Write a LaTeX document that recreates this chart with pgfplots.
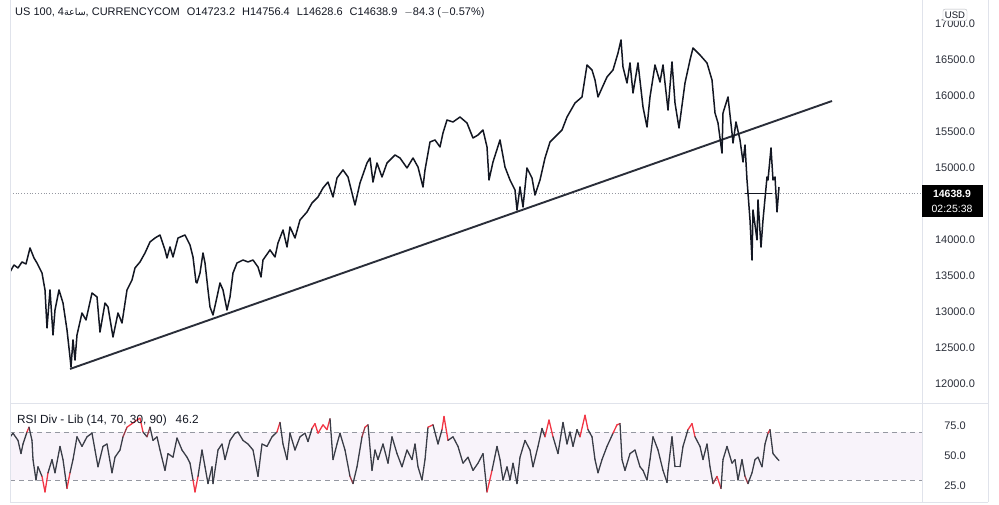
\documentclass[border=0pt]{standalone}
\usepackage{pgfplots}
\pgfplotsset{compat=1.18}
\usepackage{fontspec}
\setmainfont{Liberation Sans}
\newfontfamily\arabicfont[Script=Arabic]{DejaVu Sans}
\TeXXeTstate=1
\definecolor{pricecol}{HTML}{131722}
\definecolor{trendcol}{HTML}{2A2E39}
\definecolor{gridcol}{HTML}{E0E3EB}
\definecolor{rsigray}{HTML}{3A3D47}
\definecolor{rsired}{HTML}{F23645}
\definecolor{rsibg}{HTML}{F8F3FA}
\definecolor{dashcol}{HTML}{9598A1}
\definecolor{labelcol}{HTML}{2A2E39}
\begin{document}
\begin{tikzpicture}
\path[use as bounding box] (0pt,0pt) rectangle (999pt,504pt);
\fill[white] (0pt,0pt) rectangle (999pt,504pt);
% main price panel
\begin{axis}[
  at={(10pt,101pt)}, anchor=south west, scale only axis,
  width=912pt, height=403pt,
  xmin=10, xmax=922, ymin=11737, ymax=17323,
  axis line style={draw=none}, xtick=\empty,
  ytick={12000,12500,13000,13500,14000,15000,15500,16000,16500,17000},
  yticklabel pos=right, major tick length=0pt, scaled y ticks=false,
  yticklabel style={anchor=center, xshift=33pt, font=\fontsize{11}{13}\selectfont, text=labelcol},
  /pgf/number format/fixed, /pgf/number format/fixed zerofill,
  /pgf/number format/precision=1, /pgf/number format/1000 sep={},
  /pgf/number format/assume math mode=true,
]
\addplot[dotted, thick, color=dashcol] coordinates {(10,14638.9) (922,14638.9)};
\addplot[line width=1.9pt, color=trendcol] coordinates {(70,12209) (832,15923)};
\addplot[line width=1.5pt, color=pricecol, line join=round] coordinates {
(10,13553)(14,13650)(18,13609)(22,13692)(26,13664)(30,13886)(34,13747)(37,13678)(42,13539)(45,13304)
(47,12777)(50,13304)(53,12680)(55,13026)(59,13304)(63,13123)(67,12749)(70,12375)(71,12236)(73,12611)
(75,12333)(77,12680)(82,12985)(86,12888)(92,13262)(97,13207)(100,12721)(105,13123)(108,13068)(113,12652)
(118,12985)(122,12846)(127,13304)(132,13442)(135,13609)(140,13692)(145,13816)(150,13969)(155,14024)(160,14066)
(165,13858)(167,13747)(170,13900)(173,13761)(178,14024)(185,14066)(190,13927)(193,13761)(196,13414)(197,13401)
(200,13539)(203,13816)(205,13678)(208,13304)(210,13068)(213,12957)(217,13207)(220,13401)(223,13304)(227,13026)
(230,13207)(233,13539)(237,13678)(243,13719)(248,13692)(253,13719)(258,13622)(261,13484)(263,13719)(270,13858)
(275,13761)(278,13955)(283,14135)(287,13900)(290,14177)(295,14024)(300,14274)(307,14385)(312,14509)(318,14593)
(323,14717)(328,14800)(333,14593)(337,14856)(343,14967)(348,14870)(355,14482)(360,14787)(367,15064)(370,15133)
(373,14800)(377,15064)(382,14870)(387,15064)(395,15175)(400,15133)(407,14995)(413,15133)(418,15008)(423,14731)
(425,14967)(430,15355)(435,15383)(440,15286)(443,15480)(447,15660)(453,15632)(460,15701)(467,15618)(473,15410)
(478,15452)(483,15521)(487,15286)(489,14828)(493,15078)(500,15383)(505,15008)(510,14828)(515,14690)(517,14412)
(520,14731)(523,14454)(527,14995)(532,14856)(535,14620)(540,14828)(545,15133)(550,15355)(557,15452)(562,15521)
(567,15701)(575,15895)(582,15979)(587,16422)(592,16353)(595,16214)(598,15979)(602,16103)(607,16256)(613,16353)
(618,16588)(621,16769)(623,16394)(627,16173)(630,16450)(633,16034)(638,16450)(643,15840)(647,15563)(650,15979)
(655,16422)(660,16186)(663,16422)(668,15798)(672,16464)(675,15895)(679,15549)(685,16173)(690,16491)(693,16658)
(700,16561)(707,16450)(712,16214)(715,15757)(718,15618)(722,15202)(723,15757)(728,15979)(732,15480)(733,15341)
(736,15632)(740,15383)(743,15078)(745,15313)(747,14828)(748,14648)(750,14274)(752,13719)(753,14412)(757,13997)
(758,14551)(761,13899)(763,14274)(767,14870)(768,14828)(771,15272)(773,14828)(775,14870)(777,14385)(779,14731)
};
\addplot[line width=0.8pt, color=pricecol] coordinates {(745,14638.9) (772,14638.9)};
\end{axis}
% RSI panel
\begin{axis}[
  at={(10pt,2pt)}, anchor=south west, scale only axis,
  width=912pt, height=99pt,
  xmin=10, xmax=922, ymin=11.67, ymax=94.17,
  axis line style={draw=none}, xtick=\empty,
  ytick={25,50,75},
  yticklabel pos=right, major tick length=0pt,
  yticklabel style={anchor=center, xshift=33pt, font=\fontsize{11}{13}\selectfont, text=labelcol},
  /pgf/number format/fixed, /pgf/number format/fixed zerofill,
  /pgf/number format/precision=1,
  /pgf/number format/assume math mode=true,
  point meta min=0, point meta max=100,
  colormap={rsicm}{color(0pt)=(rsired) color(295pt)=(rsired) color(305pt)=(rsigray) color(695pt)=(rsigray) color(705pt)=(rsired) color(1000pt)=(rsired)},
]
\addplot[draw=none, fill=rsibg] coordinates {(10,30) (922,30) (922,70) (10,70)} -- cycle;
\addplot[color=dashcol, line width=0.8pt, dash pattern=on 5pt off 4pt] coordinates {(10,70) (922,70)};
\addplot[color=dashcol, line width=0.8pt, dash pattern=on 5pt off 4pt] coordinates {(10,30) (922,30)};
\addplot[mesh, point meta=y, line width=1.3pt, line cap=round] coordinates {
(10,65.8)(13,69)(18,63)(21,52)(23,60)(27,70)(29,74)(32,63)(33,47)(36,30)(38,41)(42,33)(45,20)(48,36)(52,47)
(55,36)(60,58)(63,47)(67,23)(70,36)(73,47)(77,66)(82,58)(87,66)(92,69)(95,55)(98,41)(103,58)(107,60)(112,36)
(115,49)(120,55)(123,66)(127,74)(132,77)(137,80)(140,81.5)(143,70)(147,66)(150,74)(153,63)(157,66)(160,55)(165,38)
(168,52)(173,49)(177,65)(182,55)(187,49)(190,44)(193,30)(195,20)(198,33)(202,55)(205,41)(208,27)(212,41)(213,27)
(218,55)(222,60)(225,47)(230,63)(235,69)(238,70)(243,63)(248,60)(253,55)(258,33)(262,60)(267,58)(272,66)(277,70)
(280,78)(283,60)(287,47)(290,69)(295,55)(300,66)(305,69)(308,62)(312,73)(315,77)(318,69)(323,76)(327,72)(330,81)
(333,47)(337,60)(340,69)(345,55)(350,33)(353,27)(357,41)(362,66)(365,74)(368,76)(372,38)(375,55)(378,47)(383,60)
(388,44)(392,66)(397,52)(402,41)(407,55)(412,47)(415,60)(418,41)(422,30)(425,47)(428,74)(433,76)(438,60)(442,72)
(444,83)(448,63)(453,66)(458,58)(463,44)(468,49)(473,38)(478,44)(483,52)(487,20)(492,38)(497,58)(500,47)(503,30)
(507,41)(510,30)(513,44)(517,27)(520,49)(525,63)(530,55)(533,41)(538,58)(542,73)(545,66)(549,80)(553,66)(558,52)
(563,78)(567,60)(570,70)(573,58)(577,72)(580,66)(585,84)(588,72)(592,66)(595,47)(598,36)(602,47)(607,58)(613,69)
(617,76)(620,77)(622,47)(625,38)(630,52)(635,55)(640,41)(643,38)(647,30)(650,47)(653,66)(658,55)(663,38)(667,28)
(668,38)(672,66)(675,41)(680,41)(683,58)(688,72)(692,77)(695,66)(700,58)(703,47)(707,60)(710,41)(713,27)(717,33)
(721,23)(723,47)(727,58)(732,44)(735,47)(738,30)(742,47)(745,33)(748,27)(752,36)(755,47)(758,49)(762,41)(765,60)
(768,69)(770,72)(773,52)(777,48)(779,46.2)
};
\end{axis}
% panel borders
\draw[gridcol, line width=0.8pt] (10pt,2pt) -- (10pt,504pt);
\draw[gridcol, line width=0.8pt] (922pt,2pt) -- (922pt,504pt);
\draw[gridcol, line width=0.8pt] (988pt,2pt) -- (988pt,504pt);
\draw[gridcol, line width=0.8pt] (10pt,101pt) -- (988pt,101pt);
\draw[gridcol, line width=0.8pt] (10pt,2pt) -- (988pt,2pt);
% title texts
\node[anchor=base west, inner sep=0pt, text=pricecol, font=\fontsize{11}{13}\selectfont] at (15pt,488pt)
  {US 100, 4{\arabicfont\fontsize{9.5}{11}\selectfont\beginR ساعة\endR}, CURRENCYCOM\hspace{7pt}O14723.2\hspace{7pt}H14756.4\hspace{7pt}L14628.6\hspace{7pt}C14638.9\hspace{7pt}$-$84.3 ($-$0.57\%)};
\node[anchor=base west, inner sep=0pt, text=pricecol, font=\fontsize{11.8}{14}\selectfont] at (17pt,81pt)
  {RSI Div - Lib (14, 70, 30, 90)\hspace{9pt}46.2};
% USD box
\node[draw=dashcol!70, fill=white, rounded corners=2pt, inner xsep=2pt, inner ysep=2.5pt, text=pricecol, font=\fontsize{9.5}{11}\selectfont] at (955pt,489pt) {USD};
% last price box
\fill[black] (922pt,287pt) rectangle (983pt,319pt);
\node[text=white, font=\bfseries\fontsize{10.5}{12}\selectfont, inner sep=0pt] at (952pt,310pt) {14638.9};
\node[text=white, font=\fontsize{10.5}{12}\selectfont, inner sep=0pt] at (952pt,295pt) {02:25:38};
\end{tikzpicture}
\end{document}
